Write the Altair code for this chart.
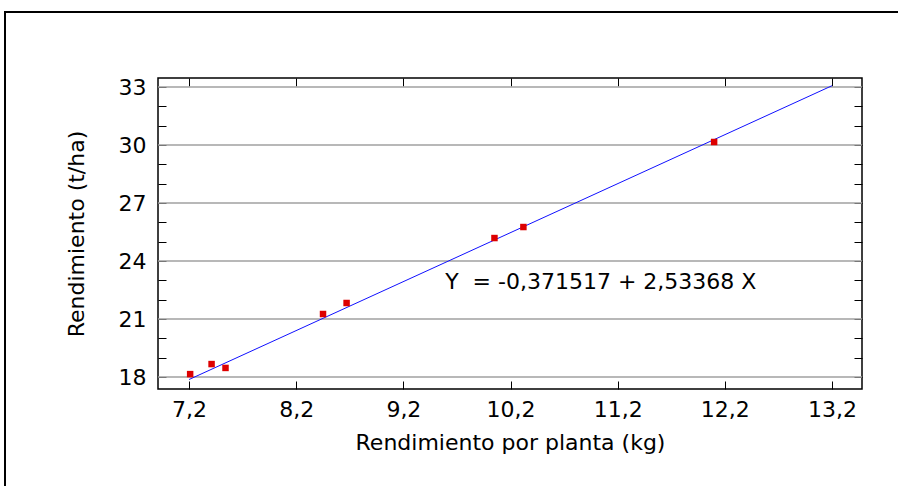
import altair as alt
import pandas as pd

# ---- data ----
x_vals = [7.21, 7.41, 7.54, 8.45, 8.67, 10.05, 10.32, 12.10]
y_vals = [18.15, 18.67, 18.47, 21.26, 21.83, 25.19, 25.76, 30.16]
fit_x = [7.2, 13.2]
fit_y = [17.87, 33.07]
x_ticks = [7.2, 8.2, 9.2, 10.2, 11.2, 12.2, 13.2]
y_ticks = list(range(18, 34))
y_grid = [18, 21, 24, 27, 30, 33]
eq_text = ["Y\u00a0 = -0,371517 + 2,53368 X"]
eq_x = [9.59]
eq_y = [22.9]
x_title = "Rendimiento por planta (kg)"
y_title = "Rendimiento (t/ha)"

# ---- layout / style ----
W, H = 704, 311
PAD = {"left": 158, "top": 78, "right": 36, "bottom": 97}
TL = 8
FONT = "DejaVu Sans"
FS = 22

xs = alt.Scale(domain=[6.91, 13.48], nice=False, zero=False)
ys = alt.Scale(domain=[17.38, 33.47], nice=False, zero=False)

pts = pd.DataFrame({"x": x_vals, "y": y_vals})
fit = pd.DataFrame({"x": fit_x, "y": fit_y})
grid = pd.DataFrame({"y": y_grid})
eq = pd.DataFrame({"x": eq_x, "y": eq_y, "t": eq_text})
one = pd.DataFrame({"a": [0]})

xlab = "replace(format(datum.value, '.1f'), '.', ',')"
ylab = "datum.value % 3 == 0 ? format(datum.value, 'd') : ''"

common = dict(tickColor="black", tickWidth=1, tickSize=TL, offset=-TL,
              domain=False, grid=False, labelColor="black",
              labelFont=FONT, labelFontSize=FS, titleFont=FONT,
              titleFontSize=FS, titleColor="black", titleFontWeight="normal")

ax_bottom = alt.Axis(orient="bottom", values=x_ticks, labelExpr=xlab,
                     labelPadding=10, title=x_title, titlePadding=12,
                     **common)
ax_left = alt.Axis(orient="left", values=y_ticks, labelExpr=ylab,
                   labelPadding=12, title=y_title, titlePadding=30,
                   **common)
ax_top = alt.Axis(orient="top", values=x_ticks, labels=False, title=None,
                  **common)
ax_right = alt.Axis(orient="right", values=y_ticks, labels=False, title=None,
                    **common)

frame_top = alt.Chart(one).mark_rule(color="black", strokeWidth=2).encode(
    x=alt.value(-153), x2=alt.value(W + 400), y=alt.value(-66))
frame_left = alt.Chart(one).mark_rule(color="black", strokeWidth=2).encode(
    x=alt.value(-153), y=alt.value(-67), y2=alt.value(H + 300))

grid_l = alt.Chart(grid).mark_rule(color="#a0a0a0", strokeWidth=1.5).encode(
    y=alt.Y("y:Q", scale=ys, axis=None))

line_l = alt.Chart(fit).mark_line(color="#1010ff", strokeWidth=1).encode(
    x=alt.X("x:Q", scale=xs, axis=ax_top),
    y=alt.Y("y:Q", scale=ys, axis=ax_right))

pts_l = alt.Chart(pts).mark_square(size=42, color="#dd0000",
                                   opacity=1).encode(
    x=alt.X("x:Q", scale=xs, axis=ax_bottom),
    y=alt.Y("y:Q", scale=ys, axis=ax_left))

eq_l = alt.Chart(eq).mark_text(align="left", baseline="middle", font=FONT,
                               fontSize=FS, color="black").encode(
    x=alt.X("x:Q", scale=xs, axis=None),
    y=alt.Y("y:Q", scale=ys, axis=None),
    text="t:N")

chart = alt.layer(frame_top, frame_left, grid_l, line_l, pts_l, eq_l).resolve_axis(
    x="independent", y="independent"
).properties(
    width=W, height=H, padding=PAD,
    autosize=alt.AutoSizeParams(type="none"),
    background="white"
).configure_view(stroke="black", strokeWidth=1.5)

chart.save("out.html", embed_options={"renderer": "svg", "actions": False})
